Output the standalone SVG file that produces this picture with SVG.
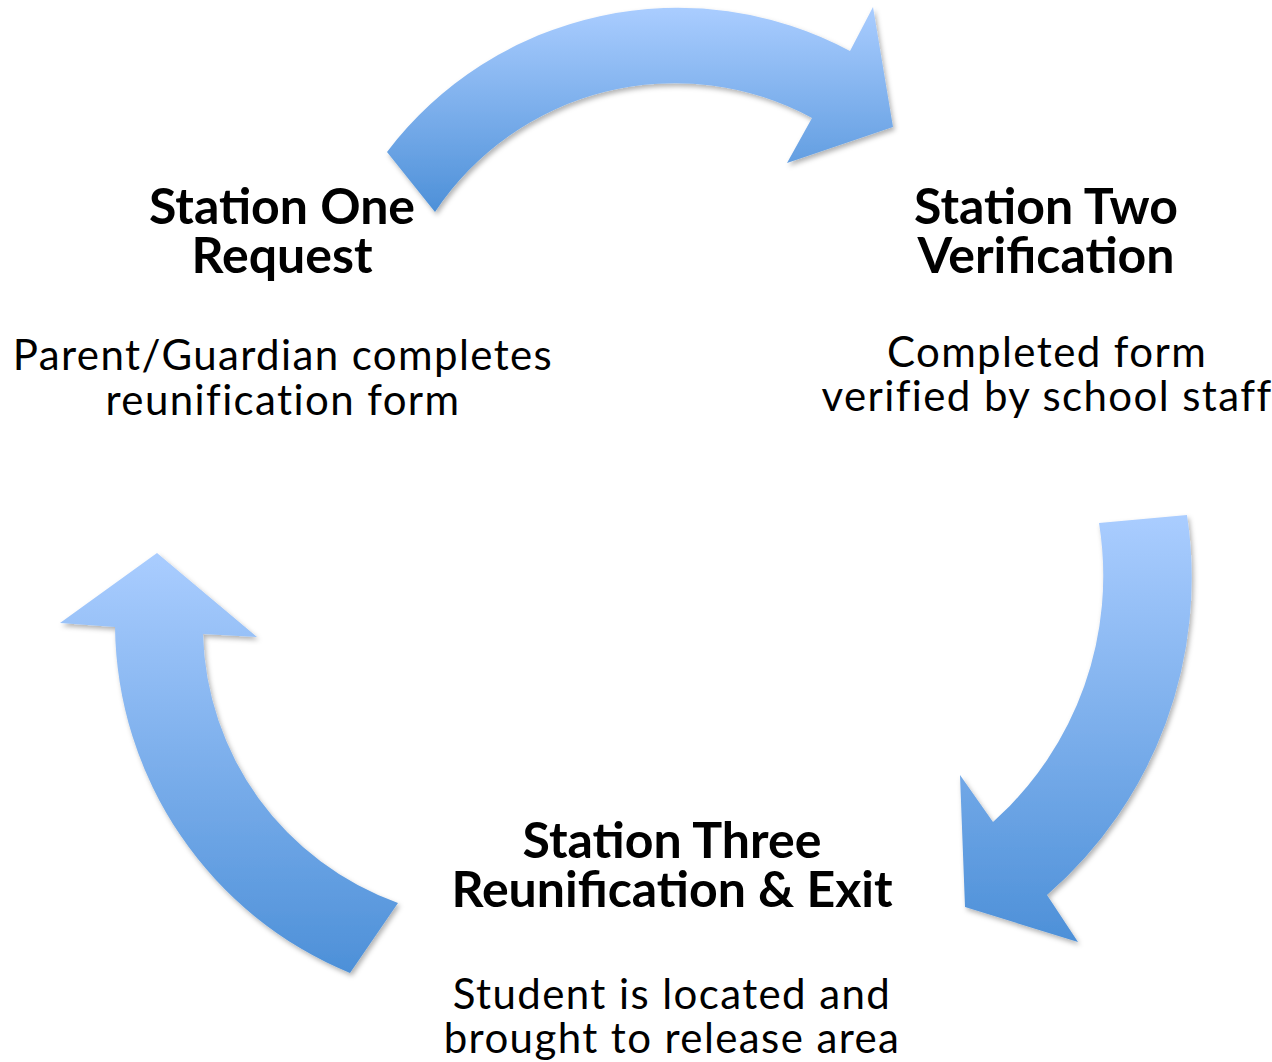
<svg xmlns="http://www.w3.org/2000/svg" width="1272" height="1062" viewBox="0 0 1272 1062">
  <style>
    .title { font-family: Lato, "Liberation Sans", sans-serif; font-weight: bold; font-size: 50px; fill: #000; text-anchor: middle; }
    .body { font-family: Lato, "Liberation Sans", sans-serif; font-size: 42px; letter-spacing: 1.4px; fill: #000; text-anchor: middle; }
    .arrow { fill: url(#blueGrad); filter: url(#shadow); }
  </style>
  <defs>
    <linearGradient id="blueGrad" x1="0" y1="0" x2="0" y2="1">
      <stop offset="0" stop-color="#AACDFF"/>
      <stop offset="1" stop-color="#4D90D8"/>
    </linearGradient>
    <filter id="shadow" x="-10%" y="-10%" width="120%" height="120%">
      <feDropShadow dx="2" dy="3" stdDeviation="2.5" flood-color="#000" flood-opacity="0.3"/>
    </filter>
  </defs>
  <rect width="1272" height="1062" fill="#FFFFFF"/>
  <g id="connectors">
    <path class="arrow" d="M387,152 A365,365 0 0 1 850,51 L873,7 L893,127 L787,163 L812,118 A288,288 0 0 0 435,212 Z"/>
    <path class="arrow" d="M1099,523 L1187,515 A420,420 0 0 1 1047,895 L1078,942 L965,907 L960,775 L993,822 A330,330 0 0 0 1099,523 Z"/>
    <path class="arrow" d="M157,553 L257,637 L203,634 A294,294 0 0 0 398,903 L350,973 A379,379 0 0 1 115,627 L60,623 Z"/>
  </g>
  <g id="station-one">
    <text class="title" x="282" y="224">Station One</text>
    <text class="title" x="282" y="273">Request</text>
    <text class="body" x="283" y="370">Parent/Guardian completes</text>
    <text class="body" x="283" y="415">reunification form</text>
  </g>
  <g id="station-two">
    <text class="title" x="1046" y="224">Station Two</text>
    <text class="title" x="1046" y="273">Verification</text>
    <text class="body" x="1047" y="367">Completed form</text>
    <text class="body" x="1047" y="411">verified by school staff</text>
  </g>
  <g id="station-three">
    <text class="title" x="672" y="858">Station Three</text>
    <text class="title" x="672" y="907">Reunification &amp; Exit</text>
    <text class="body" x="672" y="1009">Student is located and</text>
    <text class="body" x="672" y="1053">brought to release area</text>
  </g>
</svg>
